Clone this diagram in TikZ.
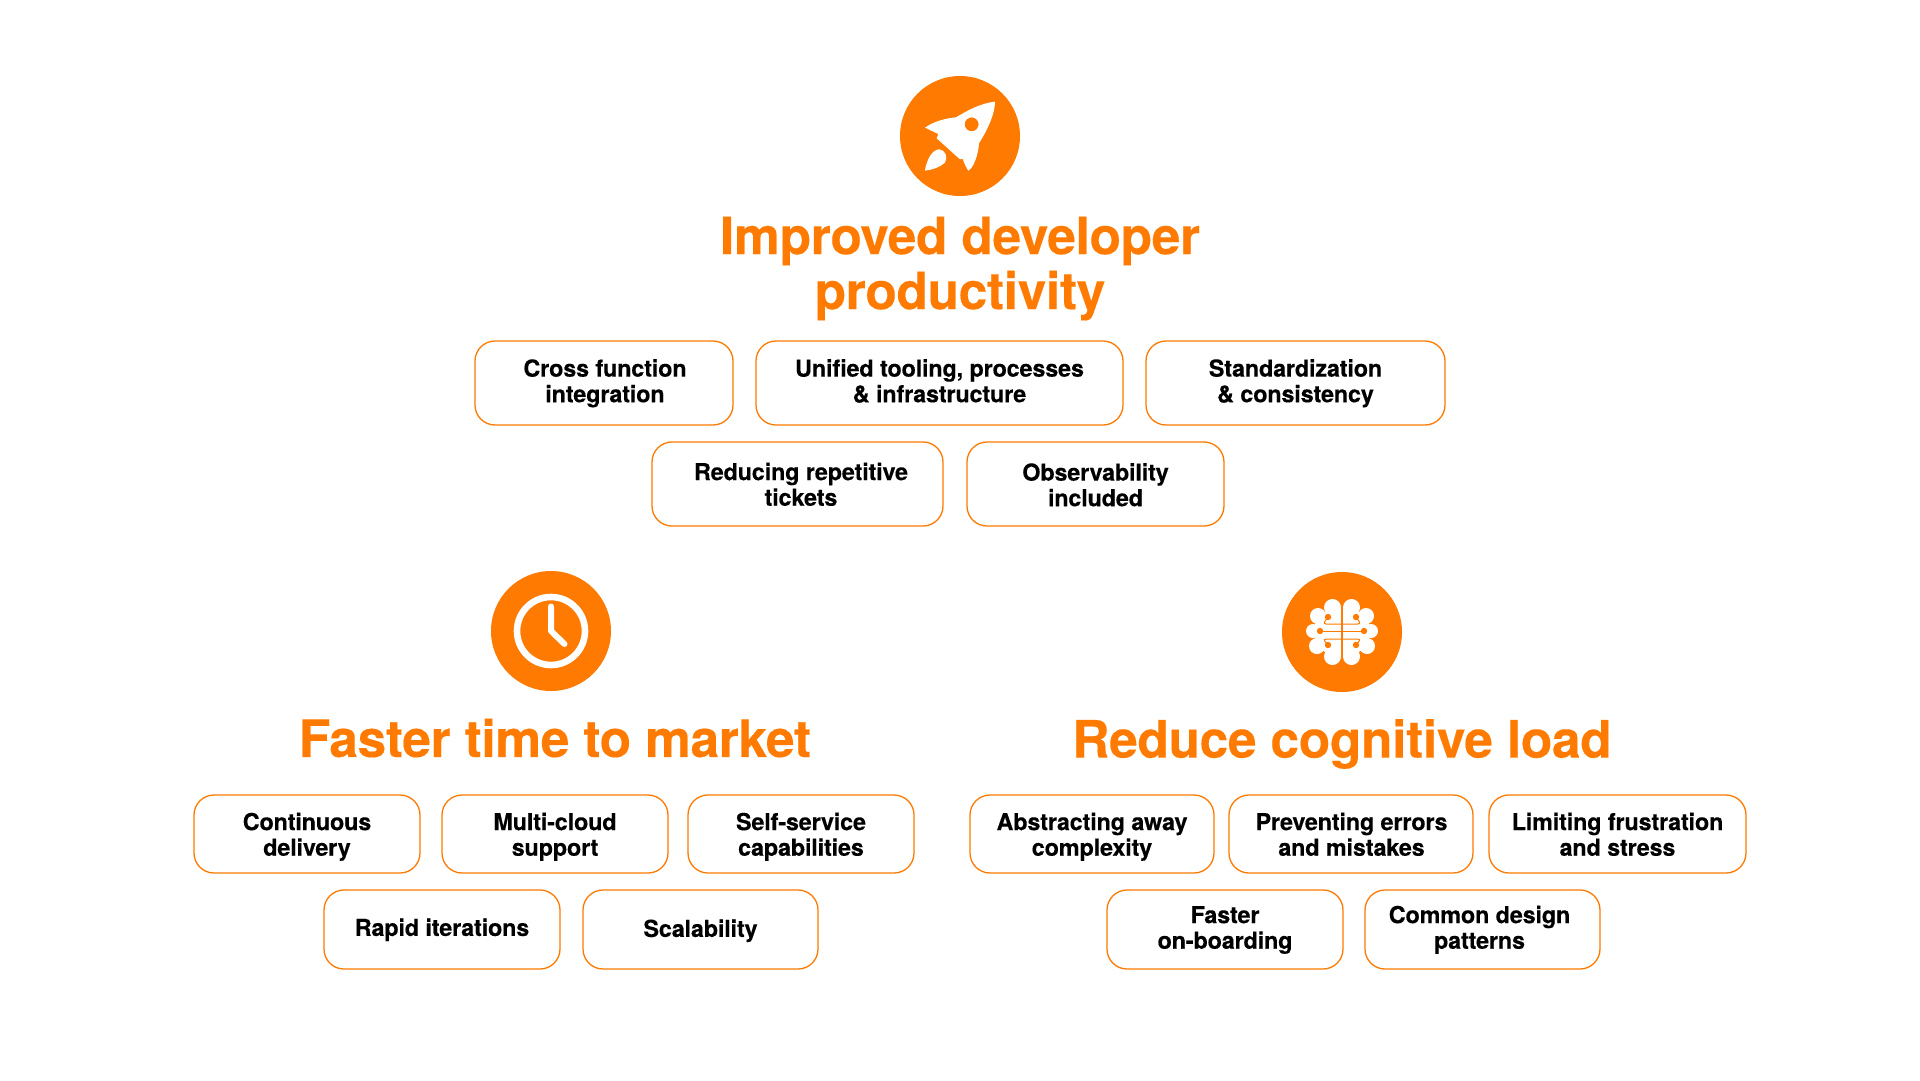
\documentclass[tikz,border=0pt]{standalone}
\usepackage{fontspec}
\setmainfont[LetterSpace=-0.7, BoldFeatures={FakeBold=0.25}]{TeX Gyre Heros}
\usepackage{xcolor}
\definecolor{brandorange}{RGB}{255, 122, 0}

% box between two corners, label on top of it (optional shift for the label)
\newcommand{\chipbox}[7][]{%
    \node[chip, minimum width=#5-#3, minimum height=#6-#4] (#2) at ({(#3+#5)/2}, {(#4+#6)/2}) {};
    \node[chiptext, #1] (#2text) at (#2.center) {\strut #7\strut};
}

\begin{document}
\begin{tikzpicture}[
    x=1pt, y=-1pt,
    chip/.style={draw=brandorange, line width=1.3pt, rounded corners=20pt, inner sep=0pt},
    chiptext/.style={align=center, inner sep=0pt, yshift=-1.3pt, font=\fontsize{23.4}{25.6}\selectfont\bfseries},
    badge/.style={circle, fill=brandorange, minimum size=120pt, inner sep=0pt},
    heading/.style={align=center, text=brandorange, font=\fontsize{51.5}{55}\selectfont\bfseries},
    trace/.style={draw=brandorange, line width=1pt, rounded corners=3pt}
]
    \useasboundingbox (0,0) rectangle (1920,1080);

    % Badges
    \node[badge] (rocket) at (960,136) {};
    \node[badge] (clock) at (551,631) {};
    \node[badge] (brain) at (1342,632) {};

    % Rocket
    \begin{scope}[shift={(880,60)}, x=0.3333pt, y=-0.3333pt]
        \fill[white, even odd rule] (345,125) .. controls (300,130) and (262,152) .. (228,172)
            .. controls (195,175) and (160,185) .. (135,203) -- (175,222) -- (170,235)
            -- (240,298) -- (248,296) .. controls (253,312) and (260,325) .. (265,332)
            .. controls (280,325) and (295,285) .. (297,250)
            .. controls (325,205) and (345,160) .. (345,125) -- cycle
            (275,193) circle (21);
        \fill[white] (135,332) .. controls (138,305) and (155,268) .. (178,268)
            .. controls (195,270) and (205,290) .. (195,308)
            .. controls (180,322) and (155,330) .. (135,332) -- cycle;
    \end{scope}

    % Clock
    \draw[white, line width=6.6pt] (clock) circle (34);
    \draw[white, line width=6pt, line cap=round, line join=round] ([shift={(0,-24.5)}]clock.center) -- (clock.center) -- ([shift={(13.5,13)}]clock.center);

    % Brain, one half mirrored onto the other
    \foreach \side in {-1,1} {
        \begin{scope}[shift={(brain.center)}, x=\side*1pt]
            \fill[white] (1,-25) -- (24,-17) -- (29,-1) -- (25,14) -- (10,25) -- (1,25) -- cycle;
            \foreach \cx/\cy/\cr in {9.5/-24.5/8.5, 24/-16/8, 29/-1/7, 25/14/8, 9.5/24.5/8.5} {
                \fill[white] (\cx,\cy) circle (\cr);
            }
            \draw[trace] (14,-15) -- (19,-8) -- (0,-8);
            \draw[trace] (14,13) -- (19,7) -- (0,7);
            \draw[trace] (22,-1) -- (0,-1);
            \foreach \cx/\cy in {14/-15, 22/-1, 14/13} {
                \fill[brandorange] (\cx,\cy) circle (3.2);
            }
        \end{scope}
    }
    \draw[trace, line width=1.4pt] (brain.center) ++(0,-33) -- ++(0,66);

    % Headings
    \node[heading] (improved) at (960,268.5) {Improved developer\\productivity};
    \node[heading] (faster) at (555,738) {Faster time to market};
    \node[heading] (reduce) at (1342,744) {Reduce cognitive load};

    % Top group
    \chipbox[xshift=1pt]{cross}{475}{341}{733}{425}{Cross function\\integration}
    \chipbox{unified}{756}{341}{1123}{425}{Unified tooling, processes\\\& infrastructure}
    \chipbox{standard}{1146}{341}{1445}{425}{Standardization\\\& consistency}
    \chipbox[xshift=3.5pt, yshift=-2.5pt]{repetitive}{652}{442}{943}{526}{Reducing repetitive\\tickets}
    \chipbox[yshift=-3pt]{observe}{967}{442}{1224}{526}{Observability\\included}

    % Left group
    \chipbox[yshift=-2.5pt]{delivery}{194}{795}{420}{873}{Continuous\\delivery}
    \chipbox[yshift=-2.5pt]{multicloud}{442}{795}{668}{873}{Multi-cloud\\support}
    \chipbox[yshift=-2.5pt]{selfservice}{688}{795}{914}{873}{Self-service\\capabilities}
    \chipbox{iterations}{324}{890}{560}{969}{Rapid iterations}
    \chipbox[yshift=-1pt]{scalability}{583}{890}{818}{969}{Scalability}

    % Right group
    \chipbox[yshift=-2.5pt]{abstract}{970}{795}{1214}{873}{Abstracting away\\complexity}
    \chipbox[xshift=0.5pt, yshift=-2.5pt]{prevent}{1229}{795}{1473}{873}{Preventing errors\\and mistakes}
    \chipbox[yshift=-2.5pt]{limit}{1489}{795}{1746}{873}{Limiting frustration\\and stress}
    \chipbox{onboard}{1107}{890}{1343}{969}{Faster\\on-boarding}
    \chipbox[xshift=-3pt]{patterns}{1365}{890}{1600}{969}{Common design\\patterns}
\end{tikzpicture}
\end{document}
